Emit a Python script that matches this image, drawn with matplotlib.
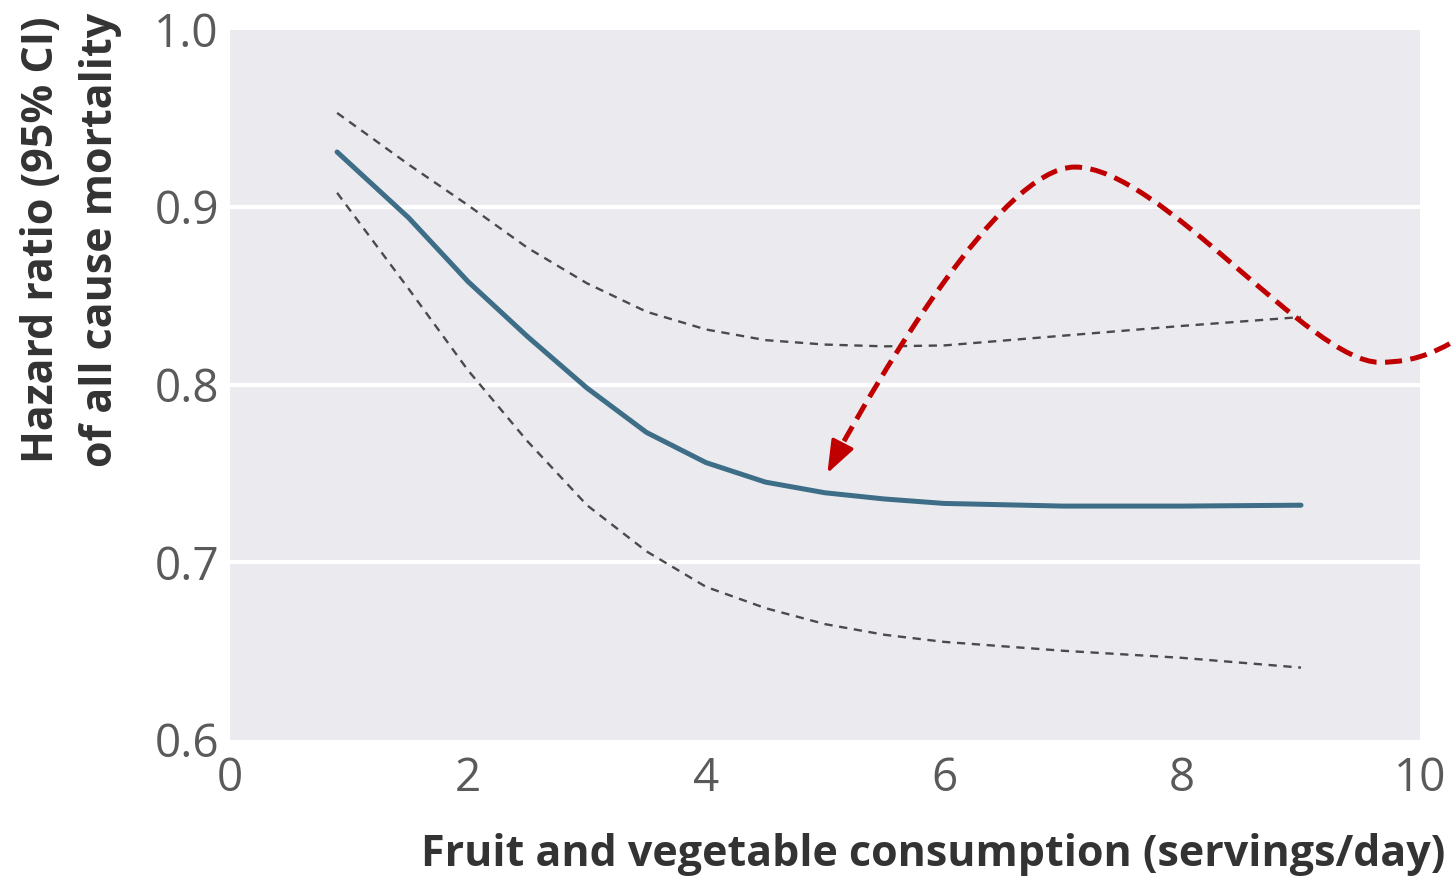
import numpy as np
import matplotlib
matplotlib.use("Agg")
import matplotlib.pyplot as plt
from matplotlib.path import Path
from matplotlib.patches import PathPatch

# ---- data ----
servings = [0.9, 1.5, 2.0, 2.5, 3.0, 3.5, 4.0, 4.5, 5.0, 5.5, 6.0, 7.0, 8.0, 9.0]
hr_central = [0.931, 0.894, 0.858, 0.827, 0.798, 0.773, 0.756, 0.745, 0.739,
              0.7355, 0.733, 0.7315, 0.7315, 0.732]
hr_upper = [0.953, 0.924, 0.901, 0.877, 0.857, 0.841, 0.831, 0.825, 0.8225,
            0.8215, 0.822, 0.8275, 0.833, 0.838]
hr_lower = [0.908, 0.854, 0.808, 0.768, 0.732, 0.706, 0.686, 0.674, 0.665,
            0.659, 0.655, 0.650, 0.646, 0.6405]

x_ticks = [0, 2, 4, 6, 8, 10]
y_ticks = [0.6, 0.7, 0.8, 0.9, 1.0]
y_tick_labels = ["0.6", "0.7", "0.8", "0.9", "1.0"]

# annotation arrow (red dashed) anchor points in data coords
arrow_start = (10.25, 0.823)
arrow_min = (9.66, 0.8125)
arrow_peak = (7.10, 0.9225)
arrow_tip = (5.02, 0.750)

fig = plt.figure(figsize=(14.51, 8.82), dpi=100)
ax = fig.add_axes([230/1451, 142.5/882, 1190/1451, 710/882])
ax.set_facecolor("#EBEBEF")
for s in ax.spines.values():
    s.set_visible(False)

ax.set_xlim(0, 10)
ax.set_ylim(0.6, 1.0)
for yv in [0.7, 0.8, 0.9]:
    ax.axhline(yv, color="white", lw=3, zorder=1)

ax.plot(servings, hr_upper, color="#4a4a4a", lw=1.7, ls=(0, (3.5, 2.8)), zorder=3)
ax.plot(servings, hr_lower, color="#4a4a4a", lw=1.7, ls=(0, (3.5, 2.8)), zorder=3)
ax.plot(servings, hr_central, color="#3E6E87", lw=3.6, zorder=4,
        solid_capstyle="round", solid_joinstyle="round")

# red dashed curved arrow (bezier path)
def px(xp, yp):
    return ((xp - 230) / 119.0, 1 - (yp - 29.5) / 1775.0)

verts = [arrow_start,
         px(1420, 360), px(1400, 362), arrow_min,
         px(1310, 362), px(1160, 167), arrow_peak,
         px(1000, 167), px(875, 385), px(838, 452)]
codes = [Path.MOVETO] + [Path.CURVE4] * 9
path = Path(verts, codes)
patch = PathPatch(path, facecolor="none", edgecolor="#C00000", lw=3.6,
                  ls=(0, (3.4, 1.7)), clip_on=False, zorder=5,
                  capstyle="butt")
ax.add_patch(patch)
ax.annotate("", xy=arrow_tip, xytext=px(842, 445),
            arrowprops=dict(arrowstyle="-|>,head_length=2.0,head_width=0.75",
                            color="#C00000", lw=2.5, shrinkA=0, shrinkB=0),
            annotation_clip=False, zorder=6)

ax.set_xticks(x_ticks)
ax.set_yticks(y_ticks)
ax.set_yticklabels(y_tick_labels)
ax.tick_params(axis="both", length=0, labelsize=33, labelcolor="#5a5a5a")
ax.tick_params(axis="y", pad=8)
ax.tick_params(axis="x", pad=12)
for lab in ax.get_xticklabels() + ax.get_yticklabels():
    lab.set_family("Open Sans")
    lab.set_fontweight("normal")

fig.text(1445/1451, 1 - 855/882, "Fruit and vegetable consumption (servings/day)",
         ha="right", va="center", fontsize=31, fontweight="bold",
         color="#333333", family="Open Sans")
fig.text(42/1451, 1 - 240/882, "Hazard ratio (95% CI)", rotation=90,
         ha="center", va="center", fontsize=31, fontweight="bold",
         color="#333333", family="Open Sans")
fig.text(100/1451, 1 - 240/882, "of all cause mortality", rotation=90,
         ha="center", va="center", fontsize=31, fontweight="bold",
         color="#333333", family="Open Sans")

fig.savefig("out.png", dpi=100)
